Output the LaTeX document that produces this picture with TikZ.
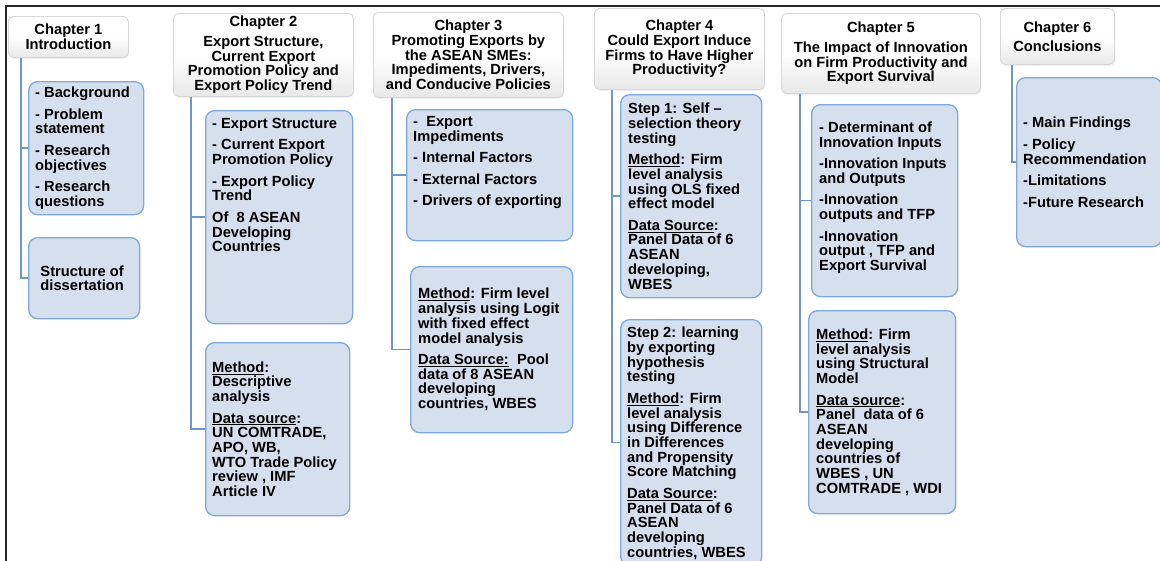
\documentclass[tikz,border=0pt]{standalone}
\usepackage{fontspec}
\setmainfont{Liberation Sans}
\usetikzlibrary{shadows}
\definecolor{boxfill}{RGB}{214,223,238}
\definecolor{boxline}{RGB}{128,168,216}
\definecolor{connline}{RGB}{110,150,200}
\definecolor{headline}{RGB}{215,215,215}
\tikzset{
  every node/.style={font=\fontsize{14.7}{14.7}\selectfont\bfseries, text=black},
  headbox/.style={draw=headline, line width=0.8pt, rounded corners=5pt,
    top color=white, bottom color=black!9, middle color=white, shading angle=0,
    align=center, inner sep=0pt, anchor=north west,
    drop shadow={shadow xshift=1pt, shadow yshift=-1.5pt, opacity=0.12}},
  bluebox/.style={draw=boxline, line width=1.3pt, fill=boxfill, rounded corners=9pt,
    inner sep=0pt, anchor=north west},
  txt/.style={align=left, inner sep=0pt},
  conn/.style={draw=connline, line width=1.5pt},
  frame/.style={draw=black!85, line width=1.3pt}
}
\begin{document}
\begin{tikzpicture}[x=1pt,y=-1pt]
\useasboundingbox (0,0) rectangle (1160,560);
% outer frame
\coordinate (f1) at (6,561);
\coordinate (f2) at (6,6);
\coordinate (f3) at (1161,6);
\draw[frame] (f1) -- (f2) -- (f3);

% headers
\node[headbox, minimum width=120pt, minimum height=41pt] (h1) at (8,16) {Chapter 1\\Introduction};
\node[headbox, minimum width=180pt, minimum height=83pt] (h2) at (173,13) {Chapter 2\\[5pt]Export Structure,\\Current Export\\Promotion Policy and\\Export Policy Trend};
\node[headbox, minimum width=190pt, minimum height=85pt] (h3) at (373,12) {Chapter 3\\Promoting Exports by\\the ASEAN SMEs:\\Impediments, Drivers,\\and Conducive Policies};
\node[headbox, minimum width=170pt, minimum height=81pt] (h4) at (594,8) {Chapter 4\\Could Export Induce\\Firms to Have Higher\\Productivity?};
\node[headbox, minimum width=199pt, minimum height=80pt] (h5) at (781,13) {Chapter 5\\[5pt]The Impact of Innovation\\on Firm Productivity and\\Export Survival};
\node[headbox, minimum width=114pt, minimum height=56pt] (h6) at (1000,8) {Chapter 6\\[4pt]Conclusions};

% boxes
\node[bluebox, minimum width=115pt, minimum height=133pt] (b11) at (28,81) {};
\node[bluebox, minimum width=111pt, minimum height=81pt] (b12) at (28,237) {};
\node[bluebox, minimum width=147pt, minimum height=213pt] (b21) at (205,110) {};
\node[bluebox, minimum width=144pt, minimum height=173pt] (b22) at (205,342) {};
\node[bluebox, minimum width=166pt, minimum height=131pt] (b31) at (406,109) {};
\node[bluebox, minimum width=162pt, minimum height=166pt] (b32) at (410,266) {};
\node[bluebox, minimum width=141pt, minimum height=203pt] (b41) at (620,94) {};
\node[bluebox, minimum width=141pt, minimum height=246pt] (b42) at (620,319) {};
\node[bluebox, minimum width=146pt, minimum height=192pt] (b51) at (811,104) {};
\node[bluebox, minimum width=147pt, minimum height=203pt] (b52) at (808,310) {};
\node[bluebox, minimum width=145pt, minimum height=169pt] (b61) at (1016,77) {};

% connectors
\coordinate (v1) at ([xshift=13pt]h1.south west);
\coordinate (v2) at ([xshift=18pt]h2.south west);
\coordinate (v3) at ([xshift=19pt]h3.south west);
\coordinate (v4) at ([xshift=18pt]h4.south west);
\coordinate (v5) at ([xshift=19pt]h5.south west);
\coordinate (v6) at ([xshift=12pt]h6.south west);
\draw[conn] (v1) |- (b11.west);
\draw[conn] (v1) |- (b12.west);
\draw[conn] (v2) |- (b21.west);
\draw[conn] (v2) |- (b22.west);
\draw[conn] (v3) |- (b31.west);
\draw[conn] (v3) |- (b32.west);
\draw[conn] (v4) |- (b41.west);
\draw[conn] (v4) |- (b42.west);
\draw[conn] (v5) |- (b51.west);
\draw[conn] (v5) |- (b52.west);
\draw[conn] (v6) |- (b61.west);

% texts
\node[txt, anchor=west] (t11) at ([xshift=7pt]b11.west) {- Background\\[6.8pt]- Problem\\statement\\[6.8pt]- Research\\objectives\\[6.8pt]- Research\\questions};
\node[align=center, inner sep=0pt] (t12) at ([xshift=-2pt]b12.center) {Structure of\\dissertation};
\node[txt, anchor=north west] (t21) at ([xshift=7pt,yshift=-8pt]b21.north west) {- Export Structure\\[6.8pt]- Current Export\\Promotion Policy\\[6.8pt]- Export Policy\\Trend\\[6.8pt]Of~ 8 ASEAN\\Developing\\Countries};
\node[txt, anchor=west] (t22) at ([xshift=7pt]b22.west) {\underline{Method}:\\Descriptive\\analysis\\[6.8pt]\underline{Data source}:\\UN COMTRADE,\\APO, WB,\\WTO Trade Policy\\review , IMF\\Article IV};
\node[txt, anchor=north west] (t31) at ([xshift=7pt,yshift=-7pt]b31.north west) {-~ Export\\Impediments\\[6.8pt]- Internal Factors\\[6.8pt]- External Factors\\[6.8pt]- Drivers of exporting};
\node[txt, anchor=west] (t32) at ([xshift=8pt]b32.west) {\underline{Method}: Firm level\\analysis using Logit\\with fixed effect\\model analysis\\[6.8pt]\underline{Data Source:}~ Pool\\data of 8 ASEAN\\developing\\countries, WBES};
\node[txt, anchor=west] (t41) at ([xshift=8pt]b41.west) {Step 1: Self –\\selection theory\\testing\\[6.8pt]\underline{Method}: Firm\\level analysis\\using OLS fixed\\effect model\\[6.8pt]\underline{Data Source}:\\Panel Data of 6\\ASEAN\\developing,\\WBES};
\node[txt, anchor=north west] (t42) at ([xshift=7pt,yshift=-8pt]b42.north west) {Step 2: learning\\by exporting\\hypothesis\\testing\\[6.8pt]\underline{Method}: Firm\\level analysis\\using Difference\\in Differences\\and Propensity\\Score Matching\\[6.8pt]\underline{Data Source}:\\Panel Data of 6\\ASEAN\\developing\\countries, WBES};
\node[txt, anchor=west] (t51) at ([xshift=8pt,yshift=3pt]b51.west) {- Determinant of\\Innovation Inputs\\[6.8pt]-Innovation Inputs\\and Outputs\\[6.8pt]-Innovation\\outputs and TFP\\[6.8pt]-Innovation\\output , TFP and\\Export Survival};
\node[txt, anchor=west] (t52) at ([xshift=8pt]b52.west) {\underline{Method}: Firm\\level analysis\\using Structural\\Model\\[6.8pt]\underline{Data source}:\\Panel~ data of 6\\ASEAN\\developing\\countries of\\WBES , UN\\COMTRADE , WDI};
\node[txt, anchor=west] (t61) at ([xshift=7pt]b61.west) {- Main Findings\\[6.8pt]- Policy\\Recommendation\\[6.8pt]-Limitations\\[6.8pt]-Future Research};
\end{tikzpicture}
\end{document}
